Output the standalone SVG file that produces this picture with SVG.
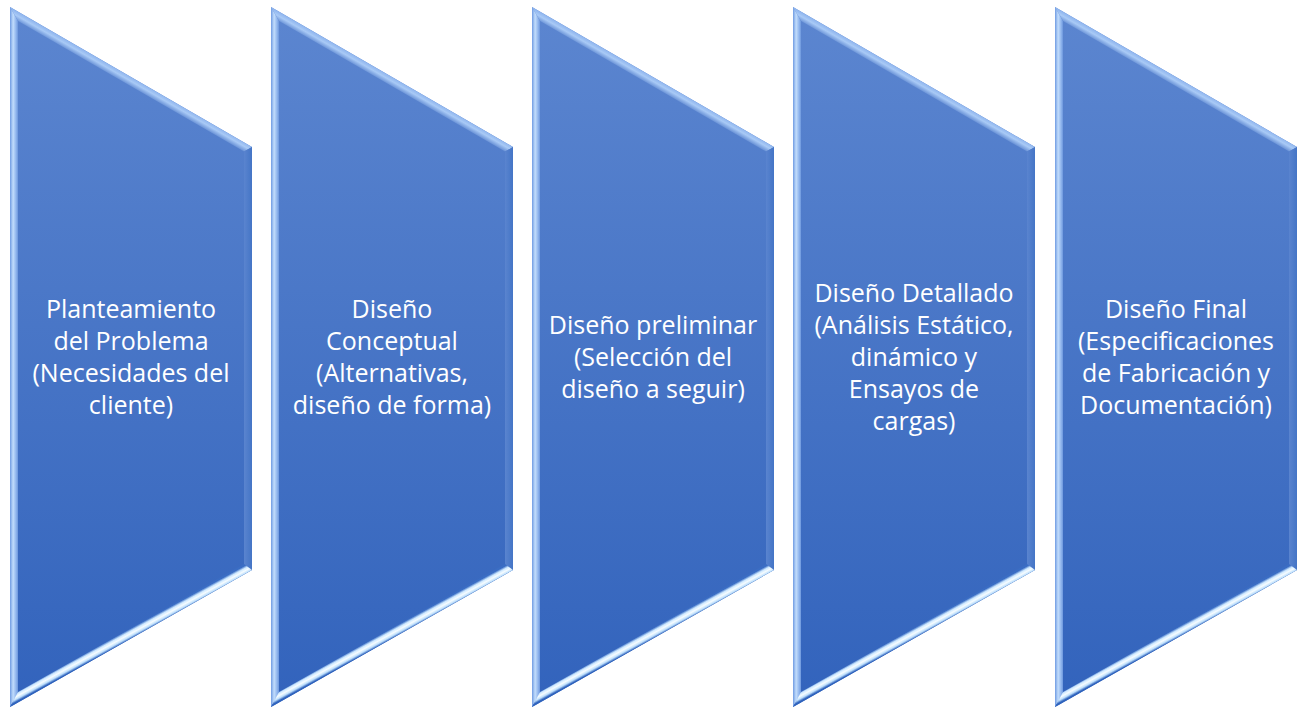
<svg xmlns="http://www.w3.org/2000/svg" width="1305" height="711" viewBox="0 0 1305 711">
<style>
  .lbl { font-family: "Open Sans", "Liberation Sans", sans-serif; font-size: 25px; fill: #ffffff; text-anchor: middle; }
</style>
<defs>
  <linearGradient id="gMain" gradientUnits="userSpaceOnUse" x1="0" y1="0" x2="0" y2="700">
    <stop offset="0" stop-color="#5C86D0"/>
    <stop offset="1" stop-color="#3263BC"/>
  </linearGradient>
  <linearGradient id="gLeft" gradientUnits="userSpaceOnUse" x1="0" y1="0" x2="9" y2="0">
    <stop offset="0" stop-color="#6F9BE2"/>
    <stop offset="0.35" stop-color="#C2DDFC"/>
    <stop offset="0.7" stop-color="#8CB2EC"/>
    <stop offset="1" stop-color="#5A86D2"/>
  </linearGradient>
  <linearGradient id="gTop" gradientUnits="userSpaceOnUse" x1="121" y1="70" x2="116.4" y2="78">
    <stop offset="0" stop-color="#8FB5EE"/>
    <stop offset="0.4" stop-color="#A9CAF6"/>
    <stop offset="1" stop-color="#5C86D0"/>
  </linearGradient>
  <linearGradient id="gRight" gradientUnits="userSpaceOnUse" x1="242" y1="0" x2="234" y2="0">
    <stop offset="0" stop-color="#4475C6"/>
    <stop offset="1" stop-color="#5A84CF"/>
  </linearGradient>
  <linearGradient id="gBot" gradientUnits="userSpaceOnUse" x1="121" y1="621.3" x2="125.4" y2="629.3">
    <stop offset="0" stop-color="#3A6DC4"/>
    <stop offset="0.25" stop-color="#CDE8FF"/>
    <stop offset="0.5" stop-color="#F6FCFF"/>
    <stop offset="0.75" stop-color="#BFE0FC"/>
    <stop offset="1" stop-color="#2F63BD"/>
  </linearGradient>
  <g id="shape">
    <polygon points="0,0 242,140 242,563 0,700" fill="url(#gMain)"/>
    <polygon points="0,0 8,13.9 8,686.3 0,700" fill="url(#gLeft)"/>
    <polygon points="0,0 242,140 234,144.6 8,13.9" fill="url(#gTop)"/>
    <polygon points="242,140 242,563 234,558.4 234,144.6" fill="url(#gRight)"/>
    <polygon points="0,700 8,685 234,557 242,563" fill="url(#gBot)"/>
  </g>
</defs>
<g id="connectors"></g>
<g id="node1">
  <use href="#shape" transform="translate(10,7)"/>
  <text class="lbl" x="131"><tspan x="131" y="318">Planteamiento</tspan><tspan x="131" y="350">del Problema</tspan><tspan x="131" y="382">(Necesidades del</tspan><tspan x="131" y="414">cliente)</tspan></text>
</g>
<g id="node2">
  <use href="#shape" transform="translate(271,7)"/>
  <text class="lbl" x="392"><tspan x="392" y="318">Diseño</tspan><tspan x="392" y="350">Conceptual</tspan><tspan x="392" y="382">(Alternativas,</tspan><tspan x="392" y="414">diseño de forma)</tspan></text>
</g>
<g id="node3">
  <use href="#shape" transform="translate(532,7)"/>
  <text class="lbl" x="653"><tspan x="653" y="334">Diseño preliminar</tspan><tspan x="653" y="366">(Selección del</tspan><tspan x="653" y="398">diseño a seguir)</tspan></text>
</g>
<g id="node4">
  <use href="#shape" transform="translate(793,7)"/>
  <text class="lbl" x="914"><tspan x="914" y="302">Diseño Detallado</tspan><tspan x="914" y="334">(Análisis Estático,</tspan><tspan x="914" y="366">dinámico y</tspan><tspan x="914" y="398">Ensayos de</tspan><tspan x="914" y="430">cargas)</tspan></text>
</g>
<g id="node5">
  <use href="#shape" transform="translate(1055,7)"/>
  <text class="lbl" x="1176"><tspan x="1176" y="318">Diseño Final</tspan><tspan x="1176" y="350">(Especificaciones</tspan><tspan x="1176" y="382">de Fabricación y</tspan><tspan x="1176" y="414">Documentación)</tspan></text>
</g>
</svg>
